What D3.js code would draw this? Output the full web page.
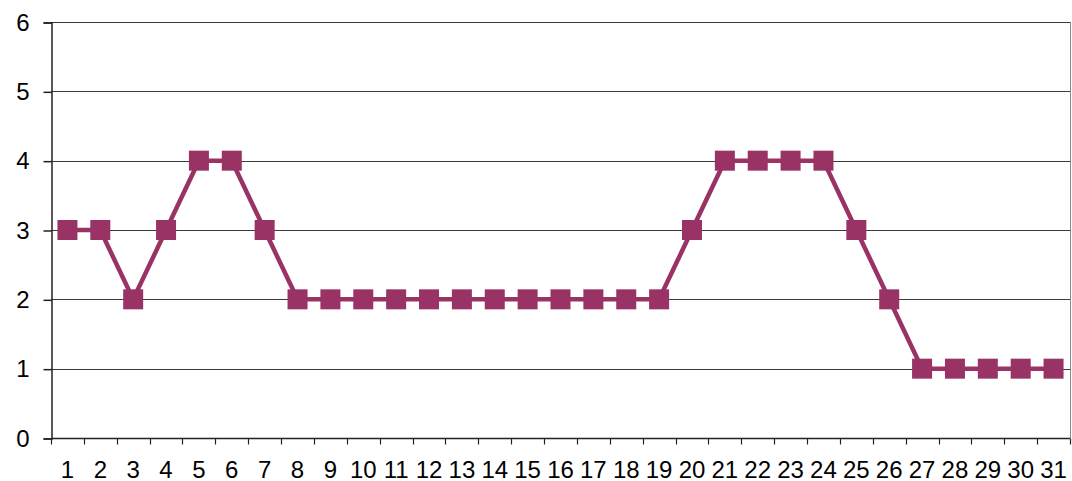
<!DOCTYPE html>
<html>
<head>
<meta charset="utf-8">
<script src="https://cdn.jsdelivr.net/npm/d3@7"></script>
<style>
  html, body { margin: 0; padding: 0; background: #fff; }
  svg { display: block; }
</style>
</head>
<body>
<svg id="chart" width="1072" height="481" font-family="Liberation Sans, Arial, sans-serif" font-size="24"></svg>
<script>
// Daily values, days 1..31
const days = d3.range(1, 32).map(String);
const values = [3, 3, 2, 3, 4, 4, 3, 2, 2, 2, 2, 2, 2, 2, 2, 2, 2, 2, 2, 3, 4, 4, 4, 4, 3, 2, 1, 1, 1, 1, 1];
const yTicks = [0, 1, 2, 3, 4, 5, 6];

const FONT = "Liberation Sans, Arial, sans-serif";
const FONT_SIZE = 24;

const svg = d3.select("#chart");
const plotLeft = 51, plotRight = 1070, plotTop = 22, plotBottom = 438;

const x = d3.scaleBand().domain(days).range([plotLeft, plotRight]);
const y = d3.scaleLinear().domain([0, 6]).range([plotBottom, plotTop]);

// horizontal gridlines
svg.append("g")
  .selectAll("line")
  .data(yTicks.slice(1))
  .join("line")
  .attr("x1", plotLeft).attr("x2", plotRight)
  .attr("y1", d => Math.round(y(d)) + 0.5).attr("y2", d => Math.round(y(d)) + 0.5)
  .attr("stroke", "#3a3a3a").attr("stroke-width", 1);

// right border of plot area
svg.append("line")
  .attr("x1", plotRight + 0.5).attr("x2", plotRight + 0.5)
  .attr("y1", plotTop).attr("y2", plotBottom)
  .attr("stroke", "#888").attr("stroke-width", 1);

// y axis
const yAxis = svg.append("g")
  .attr("transform", `translate(${plotLeft + 0.5},0.5)`)
  .call(d3.axisLeft(y).tickValues(yTicks).tickSize(8).tickPadding(14).tickFormat(d3.format("d")));
yAxis.attr("font-size", FONT_SIZE).attr("font-family", FONT);
yAxis.selectAll("path, line").attr("stroke", "#222").attr("stroke-width", 1.5);
yAxis.selectAll("text")
  .attr("fill", "#000")
  .attr("font-size", FONT_SIZE)
  .attr("font-family", FONT);

// x axis with ticks between categories
const xAxis = svg.append("g").attr("transform", `translate(0,${plotBottom + 0.5})`);
xAxis.append("line").attr("x1", plotLeft).attr("x2", plotRight)
  .attr("stroke", "#222").attr("stroke-width", 1.5);
const bounds = days.map(d => x(d)).concat([plotRight]);
xAxis.selectAll("line.tick")
  .data(bounds)
  .join("line")
  .attr("class", "tick")
  .attr("x1", d => Math.round(d) + 0.5).attr("x2", d => Math.round(d) + 0.5)
  .attr("y1", 0).attr("y2", 6)
  .attr("stroke", "#222").attr("stroke-width", 1.2);
xAxis.selectAll("text")
  .data(days)
  .join("text")
  .attr("x", d => x(d) + x.bandwidth() / 2)
  .attr("y", 39)
  .attr("text-anchor", "middle")
  .attr("fill", "#000")
  .attr("font-size", FONT_SIZE)
  .attr("font-family", FONT)
  .text(d => d);

// series line
const cx = d => x(d) + x.bandwidth() / 2;
const data = days.map((d, i) => ({ day: d, v: values[i] }));
svg.append("path")
  .datum(data)
  .attr("fill", "none")
  .attr("stroke", "#993366")
  .attr("stroke-width", 4.5)
  .attr("stroke-linejoin", "round")
  .attr("d", d3.line().x(d => cx(d.day)).y(d => y(d.v)));

// square markers
const ms = 20;
svg.append("g")
  .selectAll("rect")
  .data(data)
  .join("rect")
  .attr("x", d => cx(d.day) - ms / 2)
  .attr("y", d => y(d.v) - ms / 2)
  .attr("width", ms).attr("height", ms)
  .attr("fill", "#993366");
</script>
</body>
</html>
